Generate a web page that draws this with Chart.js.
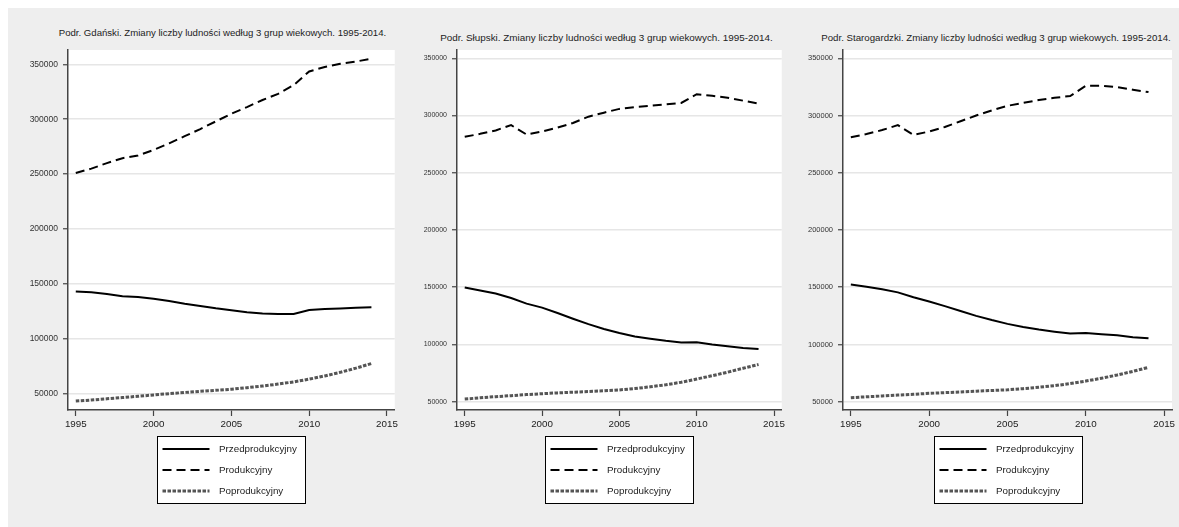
<!DOCTYPE html>
<html lang="pl">
<head>
<meta charset="UTF-8">
<title>Zmiany liczby ludności według 3 grup wiekowych. 1995-2014.</title>
<script src="https://cdn.jsdelivr.net/npm/chart.js"></script>
<style>
    body {
        margin: 0;
        background: #ffffff;
        width: 1179px;
        height: 527px;
        overflow: hidden;
        position: relative;
        font-family: "Liberation Sans", Arial, sans-serif;
    }
    .tlo {
        position: absolute;
        left: 8px; top: 8px; right: 0; bottom: 0;
        background: #eeeeee;
    }
    canvas { position: absolute; top: 8px; }
    .tytul {
        position: absolute;
        width: 420px;
        height: 12px;
        line-height: 12px;
        text-align: center;
        white-space: nowrap;
        color: #222222;
    }
</style>
</head>
<body>
<div class="tlo"></div>
<div class="tytul" style="left:12.5px;top:27px;font-size:9.6px">Podr. Gdański. Zmiany liczby ludności według 3 grup wiekowych. 1995-2014.</div>
<div class="tytul" style="left:396.5px;top:32px;font-size:9.9px">Podr. Słupski. Zmiany liczby ludności według 3 grup wiekowych. 1995-2014.</div>
<div class="tytul" style="left:786px;top:32px;font-size:9.7px">Podr. Starogardzki. Zmiany liczby ludności według 3 grup wiekowych. 1995-2014.</div>
<canvas id="c1" width="392" height="519" style="left:8px"></canvas>
<canvas id="c2" width="377" height="519" style="left:410px"></canvas>
<canvas id="c3" width="373" height="519" style="left:806px"></canvas>

<script>
    // lata i etykiety osi
    const lata = [1995, 1996, 1997, 1998, 1999, 2000, 2001, 2002, 2003, 2004,
                  2005, 2006, 2007, 2008, 2009, 2010, 2011, 2012, 2013, 2014];
    const xTicks = [1995, 2000, 2005, 2010, 2015];
    const yTicks = [50000, 100000, 150000, 200000, 250000, 300000, 350000];
    const nazwyGrup = ['Przedprodukcyjny', 'Produkcyjny', 'Poprodukcyjny'];

    // Podregion gdański
    const gdPrzed = [143000, 142400, 140900, 138800, 138200, 136500, 134500, 132000, 130000, 127800,
                     126000, 124300, 123000, 122600, 122600, 126300, 127200, 127700, 128300, 128800];
    const gdProd  = [251000, 255000, 260000, 264500, 267000, 272000, 278000, 284500, 291000, 298000,
                     305000, 311000, 317500, 323000, 331000, 343500, 347500, 350500, 352500, 355000];
    const gdPoprod = [43300, 44300, 45400, 46500, 47700, 48900, 50100, 51200, 52200, 53100,
                      54100, 55500, 57000, 58800, 60800, 63300, 66200, 69500, 73300, 77500];

    // Podregion słupski
    const slPrzed = [149700, 147100, 144500, 140600, 135700, 132200, 127500, 122500, 117800, 113500,
                     110000, 107000, 105000, 103200, 101800, 102000, 100000, 98500, 97000, 96000];
    const slProd  = [281400, 284000, 287000, 291600, 283400, 286000, 289500, 293500, 299000, 302500,
                     305800, 307300, 308500, 309800, 311000, 318600, 317300, 315500, 313000, 310500];
    const slPoprod = [52300, 53400, 54400, 55300, 56200, 57000, 57700, 58300, 58900, 59500,
                      60300, 61500, 63000, 64800, 67000, 69800, 72700, 75800, 79200, 82500];

    // Podregion starogardzki
    const stPrzed = [152300, 150500, 148200, 145500, 141300, 137500, 133500, 129300, 125000, 121300,
                     118000, 115300, 113000, 111200, 109500, 110000, 109000, 108000, 106300, 105400];
    const stProd  = [281000, 283800, 287300, 291600, 283100, 286000, 290000, 295000, 300000, 304500,
                     308500, 311000, 313500, 315500, 317000, 326000, 326000, 324800, 322500, 320500];
    const stPoprod = [53500, 54300, 55000, 55800, 56500, 57300, 57900, 58500, 59200, 59800,
                      60400, 61400, 62600, 64000, 65800, 68000, 70500, 73300, 76500, 80000];

    const FONT = '"Liberation Sans", Arial, sans-serif';

    // biale tlo obszaru wykresu
    const bialeTlo = {
        id: 'bialeTlo',
        beforeDraw(chart) {
            const a = chart.chartArea;
            chart.ctx.save();
            chart.ctx.fillStyle = '#ffffff';
            chart.ctx.fillRect(a.left, a.top, a.right - a.left, a.bottom - a.top);
            chart.ctx.restore();
        }
    };

    // legenda w ramce pod wykresem
    const legendaRamka = {
        id: 'legendaRamka',
        afterDraw(chart) {
            const ctx = chart.ctx, a = chart.chartArea;
            const w = 148, h = 67;
            const left = Math.round((a.left + a.right) / 2 - w / 2) + 0.5;
            const top = Math.round(a.bottom + 26) + 0.5;
            ctx.save();
            ctx.fillStyle = '#ffffff';
            ctx.fillRect(left, top, w, h);
            ctx.strokeStyle = '#000000';
            ctx.lineWidth = 1;
            ctx.strokeRect(left, top, w, h);
            chart.data.datasets.forEach((ds, i) => {
                const y = top + 12.5 + i * 21;
                ctx.beginPath();
                ctx.setLineDash(ds.borderDash || []);
                ctx.lineWidth = ds.borderWidth;
                ctx.strokeStyle = ds.borderColor;
                ctx.moveTo(left + 5, y);
                ctx.lineTo(left + 52, y);
                ctx.stroke();
                ctx.setLineDash([]);
                ctx.fillStyle = '#222222';
                ctx.font = '9.8px ' + FONT;
                ctx.textBaseline = 'middle';
                ctx.fillText(ds.label, left + 61.5, y);
            });
            ctx.restore();
        }
    };

    function punkty(wartosci) {
        return lata.map((r, i) => ({ x: r, y: wartosci[i] }));
    }

    function rysuj(id, przed, prod, poprod, p) {
        new Chart(document.getElementById(id), {
            type: 'line',
            data: {
                datasets: [
                    { label: nazwyGrup[0], data: punkty(przed), borderColor: '#000000', borderWidth: 2 },
                    { label: nazwyGrup[1], data: punkty(prod), borderColor: '#000000', borderWidth: 2, borderDash: [9, 5] },
                    { label: nazwyGrup[2], data: punkty(poprod), borderColor: '#555555', borderWidth: 3, borderDash: [3.5, 1.5] }
                ]
            },
            options: {
                responsive: false,
                animation: false,
                elements: { point: { radius: 0 }, line: { tension: 0, borderCapStyle: 'butt' } },
                layout: { padding: { left: 0, right: p.pr, top: 42, bottom: 87 } },
                plugins: {
                    legend: { display: false },
                    tooltip: { enabled: false },
                    title: { display: false }
                },
                scales: {
                    x: {
                        type: 'linear',
                        min: 1994.5,
                        max: 2015.5,
                        afterBuildTicks: s => { s.ticks = xTicks.map(v => ({ value: v })); },
                        afterFit: s => { s.height = 30; },
                        grid: { drawOnChartArea: false, tickLength: 6, tickColor: '#444444', tickWidth: 1.2 },
                        border: { color: '#444444', width: 1.5 },
                        ticks: {
                            autoSkip: false, maxRotation: 0, padding: 2,
                            color: '#222222',
                            font: { family: FONT, size: 9.8 },
                            callback: v => String(v)
                        }
                    },
                    y: {
                        min: p.ymin,
                        max: p.ymax,
                        afterBuildTicks: s => { s.ticks = yTicks.map(v => ({ value: v })); },
                        afterFit: s => { s.width = p.yw; },
                        grid: { color: '#e6e6e6', lineWidth: 1.5, tickColor: '#444444', tickLength: 5, tickWidth: 1.2 },
                        border: { color: '#444444', width: 1.5 },
                        ticks: {
                            autoSkip: false, padding: 5,
                            color: '#333333',
                            font: { family: FONT, size: p.yfont },
                            callback: v => String(v)
                        }
                    }
                }
            },
            plugins: [bialeTlo, legendaRamka]
        });
    }

    rysuj('c1', gdPrzed, gdProd, gdPoprod, { pr: 5, yw: 60, ymin: 35200, ymax: 363000, yfont: 8.5 });
    rysuj('c2', slPrzed, slProd, slPoprod, { pr: 4, yw: 47, ymin: 42750, ymax: 357250, yfont: 7 });
    rysuj('c3', stPrzed, stProd, stPoprod, { pr: 7, yw: 37, ymin: 42750, ymax: 357250, yfont: 7.5 });
</script>
</body>
</html>
